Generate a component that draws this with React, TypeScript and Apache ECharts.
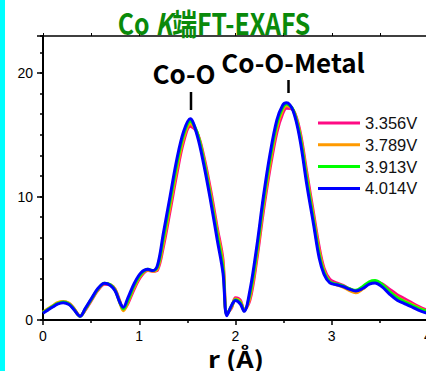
import React, { useEffect, useRef } from 'react';
import * as echarts from 'echarts';

// r (Å) sample positions
const rValues = [
  0, 0.05, 0.1, 0.15, 0.21, 0.27, 0.32, 0.385, 0.44, 0.5,
  0.57, 0.64, 0.7, 0.75, 0.8, 0.835, 0.88, 0.95, 1.02, 1.09,
  1.14, 1.19, 1.25, 1.32, 1.39, 1.46, 1.53, 1.6, 1.67, 1.74,
  1.81, 1.87, 1.91, 1.96, 2.0, 2.05, 2.09, 2.15, 2.22, 2.29,
  2.36, 2.43, 2.49, 2.53, 2.6, 2.67, 2.74, 2.81, 2.87, 2.92,
  2.98, 3.05, 3.12, 3.18, 3.25, 3.32, 3.39, 3.45, 3.52, 3.6,
  3.68, 3.75, 3.82, 3.9, 3.97, 4.0,
];

const v3356 = [
  0.6, 0.85, 1.1, 1.35, 1.45, 1.35, 0.95, 0.35, 0.8, 1.55,
  2.4, 2.9, 2.85, 2.5, 1.5, 0.85, 1.3, 2.55, 3.55, 4.0,
  3.95, 4.05, 5.9, 8.8, 11.8, 14.4, 15.7, 15.2, 13.3, 10.6,
  7.5, 4.9, 0.55, 1.0, 1.8, 1.6, 0.85, 1.6, 4.8, 8.8,
  12.3, 15.2, 16.7, 17.15, 17.0, 15.3, 12.0, 8.7, 5.9, 4.2,
  3.3, 3.0, 2.8, 2.55, 2.35, 2.6, 3.0, 3.1, 2.95, 2.5,
  2.05, 1.75, 1.45, 1.1, 0.85, 0.8,
];

const v3789 = [
  0.65, 0.9, 1.15, 1.4, 1.5, 1.35, 0.95, 0.3, 0.85, 1.6,
  2.45, 2.95, 2.85, 2.45, 1.35, 0.75, 1.4, 2.7, 3.65, 4.05,
  3.95, 4.15, 6.2, 9.2, 12.2, 14.7, 15.9, 15.2, 13.1, 10.3,
  7.2, 4.6, 0.45, 1.05, 1.7, 1.5, 0.8, 1.8, 5.1, 9.2,
  12.7, 15.6, 17.0, 17.35, 17.0, 15.1, 11.7, 8.4, 5.6, 4.0,
  3.1, 2.85, 2.65, 2.4, 2.2, 2.5, 2.95, 3.1, 2.85, 2.3,
  1.85, 1.55, 1.3, 1.0, 0.75, 0.7,
];

const v3913 = [
  0.6, 0.85, 1.1, 1.33, 1.45, 1.3, 0.9, 0.3, 0.9, 1.65,
  2.5, 2.97, 2.85, 2.4, 1.4, 0.9, 1.55, 2.85, 3.75, 4.1,
  4.0, 4.3, 6.6, 9.6, 12.6, 15.0, 16.1, 15.2, 12.9, 10.0,
  6.9, 4.2, 0.45, 1.15, 1.65, 1.4, 0.75, 2.1, 5.5, 9.6,
  13.1, 15.9, 17.2, 17.5, 17.0, 14.9, 11.4, 8.1, 5.3, 3.85,
  3.1, 2.9, 2.75, 2.55, 2.4, 2.7, 3.1, 3.2, 2.9, 2.3,
  1.8, 1.5, 1.25, 0.95, 0.75, 0.7,
];

const v4014 = [
  0.55, 0.8, 1.05, 1.28, 1.4, 1.25, 0.85, 0.3, 0.95, 1.7,
  2.55, 2.97, 2.8, 2.35, 1.4, 1.03, 1.75, 3.0, 3.85, 4.1,
  4.0, 4.45, 7.0, 10.0, 13.0, 15.25, 16.3, 15.0, 12.6, 9.7,
  6.5, 3.8, 0.35, 1.2, 1.58, 1.3, 0.7, 2.4, 5.9, 10.0,
  13.5, 16.2, 17.4, 17.6, 16.9, 14.6, 11.0, 7.8, 5.0, 3.7,
  3.0, 2.85, 2.7, 2.5, 2.35, 2.55, 2.9, 3.0, 2.7, 2.1,
  1.6, 1.35, 1.1, 0.8, 0.6, 0.55,
];

const seriesNames = ['3.356V', '3.789V', '3.913V', '4.014V'];
const seriesValues = [v3356, v3789, v3913, v4014];
const seriesColors = ['#ff0a84', '#ff9a00', '#00ff00', '#0000ff'];

const xMin = 0;
const xMax = 4;
const yMin = 0;
const yMax = 23;

const peakLabels = ['Co-O', 'Co-O-Metal'];
const xAxisTitle = 'r (Å)';

export default function App() {
  const ref = useRef<HTMLDivElement>(null);

  useEffect(() => {
    if (!ref.current) return;
    const chart = echarts.init(ref.current, undefined, { renderer: 'svg' });
    const axisColor = '#000';
    const labelFont = 'Liberation Sans, Arial, sans-serif';
    const jpFont = '"Noto Sans CJK JP", sans-serif';

    chart.setOption({
      animation: false,
      backgroundColor: '#fff',
      grid: { left: 43, top: 36, right: 12, bottom: 51, containLabel: false, outerBoundsMode: 'none' },
      legend: {
        data: seriesNames,
        orient: 'vertical',
        left: 318,
        top: 113,
        padding: 0,
        itemWidth: 42,
        itemHeight: 3,
        itemGap: 1.8,
        icon: 'rect',
        textStyle: { fontSize: 16.5, color: '#111', fontFamily: labelFont, lineHeight: 20 },
      },
      xAxis: [
        {
          type: 'value', min: xMin, max: xMax, interval: 1, position: 'bottom',
          axisLine: { show: true, onZero: false, lineStyle: { color: axisColor, width: 2 } },
          axisTick: { show: true, length: 5, lineStyle: { color: axisColor, width: 1.5 } },
          minorTick: { show: true, splitNumber: 2, length: 3, lineStyle: { color: axisColor, width: 1.5 } },
          axisLabel: { fontSize: 14, color: '#000', fontFamily: labelFont, margin: 9 },
          splitLine: { show: false },
        },
        {
          type: 'value', min: xMin, max: xMax, interval: 1, position: 'top',
          axisLine: { show: true, onZero: false, lineStyle: { color: axisColor, width: 1.5 } },
          axisTick: { show: true, length: 3, lineStyle: { color: axisColor, width: 1 } },
          minorTick: { show: true, splitNumber: 2, length: 3, lineStyle: { color: axisColor, width: 1 } },
          axisLabel: { show: false },
          splitLine: { show: false },
        },
      ],
      yAxis: [
        {
          type: 'value', min: yMin, max: yMax, interval: 10, position: 'left',
          axisLine: { show: true, onZero: false, lineStyle: { color: axisColor, width: 2 } },
          axisTick: { show: true, length: 6, lineStyle: { color: axisColor, width: 1.5 } },
          axisLabel: {
            fontSize: 14, color: '#000', fontFamily: labelFont, margin: 10,
            formatter: (v: number) => (v % 10 === 0 ? String(v) : ''),
          },
          splitLine: { show: false },
        },
        {
          type: 'value', min: yMin, max: yMax, interval: 10 / 6, position: 'left',
          axisLine: { show: false },
          axisTick: { show: true, length: 3, lineStyle: { color: axisColor, width: 1.5 } },
          axisLabel: { show: false },
          splitLine: { show: false },
        },
      ],
      series: seriesNames.map((name, i) => ({
        name,
        type: 'line',
        xAxisIndex: 0,
        yAxisIndex: 0,
        data: rValues.map((r, j) => [r, seriesValues[i][j]]),
        showSymbol: false,
        smooth: 0.35,
        lineStyle: { width: 3, color: seriesColors[i] },
        itemStyle: { color: seriesColors[i] },
        z: 2 + i,
      })),
      graphic: [
        { type: 'rect', shape: { x: 0, y: 0, width: 5, height: 371 }, style: { fill: '#00ffff' }, z: 10 },
        {
          type: 'text', x: 214, y: 22, scaleX: 0.92, scaleY: 1.1, z: 10,
          style: {
            text: '{a|Co }{k|K}{a|端FT-EXAFS}',
            align: 'center', verticalAlign: 'middle',
            rich: {
              a: { fontSize: 27, fontWeight: 'bold', fontFamily: jpFont, fill: '#0a8a0a' },
              k: { fontSize: 27, fontWeight: 'bold', fontStyle: 'italic', fontFamily: jpFont, fill: '#0a8a0a' },
            },
          },
        },
        {
          type: 'text', x: 184, y: 72, z: 10,
          style: { text: peakLabels[0], font: `bold 26px ${jpFont}`, fill: '#000', align: 'center', verticalAlign: 'middle' },
        },
        {
          type: 'text', x: 293, y: 61, z: 10,
          style: { text: peakLabels[1], font: `bold 26px ${jpFont}`, fill: '#000', align: 'center', verticalAlign: 'middle' },
        },
        { type: 'line', shape: { x1: 191, y1: 92, x2: 191, y2: 110 }, style: { stroke: '#000', lineWidth: 2.5 }, z: 10 },
        { type: 'line', shape: { x1: 288.5, y1: 80, x2: 288.5, y2: 93 }, style: { stroke: '#000', lineWidth: 2.5 }, z: 10 },
        {
          type: 'text', x: 236, y: 358, scaleX: 1.18, z: 10,
          style: { text: xAxisTitle, font: `bold 23px ${jpFont}`, fill: '#000', align: 'center', verticalAlign: 'middle' },
        },
      ],
    });
    return () => chart.dispose();
  }, []);

  return (
    <div style={{ position: 'fixed', left: 0, top: 0, width: 426, height: 371, overflow: 'hidden', background: '#fff' }}>
      <div ref={ref} style={{ width: 440, height: 371 }} />
    </div>
  );
}
